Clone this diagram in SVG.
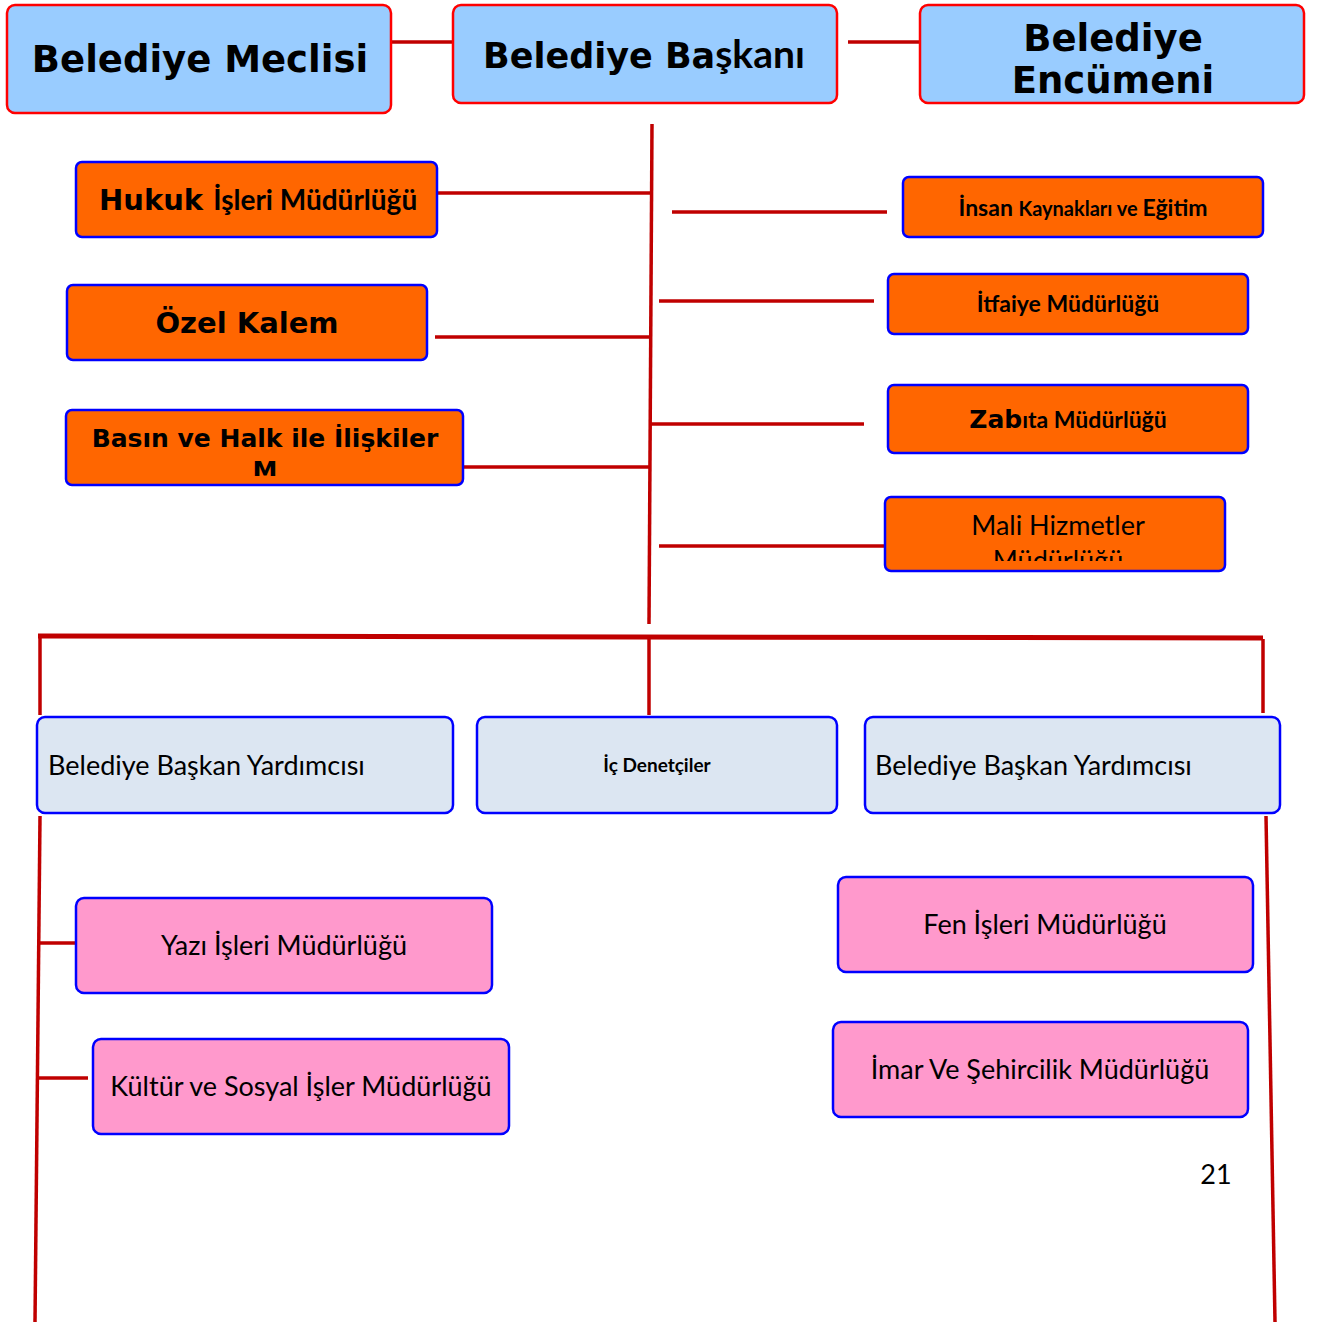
<svg xmlns="http://www.w3.org/2000/svg" width="1320" height="1322" viewBox="0 0 1320 1322">
<style>
.top{fill:#99ccff;stroke:#ff0000;stroke-width:2.5}
.org{fill:#ff6600;stroke:#0000ff;stroke-width:2.5}
.blu{fill:#dce6f2;stroke:#0000ff;stroke-width:2.5}
.pnk{fill:#ff99cc;stroke:#0000ff;stroke-width:2.5}
.ln{stroke:#c00000;stroke-width:3.5;fill:none}
.bus{stroke:#c00000;stroke-width:5;fill:none}
.dj{font-family:"DejaVu Sans",sans-serif;font-weight:bold;fill:#000}
.lb{font-family:Lato,"Liberation Sans",sans-serif;font-weight:bold;fill:#000}
.lr{font-family:Lato,"Liberation Sans",sans-serif;fill:#000;font-size:27px}
</style>
<defs>
<clipPath id="cBasin"><rect x="66" y="410" width="397" height="66"/></clipPath>
<clipPath id="cMali"><rect x="885" y="497" width="340" height="64"/></clipPath>
</defs>
<rect width="1320" height="1322" fill="#fff"/>
<g id="connectors">
<line class="ln" x1="391" y1="42" x2="463" y2="42"/>
<line class="ln" x1="848" y1="42" x2="920" y2="42"/>
<line class="ln" x1="652" y1="124" x2="649" y2="624"/>
<line class="ln" x1="437" y1="193" x2="651" y2="193"/>
<line class="ln" x1="435" y1="337" x2="650" y2="337"/>
<line class="ln" x1="463" y1="467" x2="651" y2="467"/>
<line class="ln" x1="672" y1="212" x2="887" y2="212"/>
<line class="ln" x1="659" y1="301" x2="874" y2="301"/>
<line class="ln" x1="650" y1="424" x2="864" y2="424"/>
<line class="ln" x1="659" y1="546" x2="885" y2="546"/>
<line class="bus" x1="38" y1="636" x2="1263" y2="638"/>
<line class="ln" x1="40" y1="636" x2="40" y2="715"/>
<line class="ln" x1="649" y1="637" x2="649" y2="715"/>
<line class="ln" x1="1263" y1="639" x2="1263" y2="713"/>
<line class="ln" x1="40" y1="816" x2="35" y2="1322"/>
<line class="ln" x1="39" y1="943" x2="85" y2="943"/>
<line class="ln" x1="38" y1="1078" x2="88" y2="1078"/>
<line class="ln" x1="1266" y1="816" x2="1275" y2="1322"/>
</g>
<g id="n-meclis">
<rect class="top" x="7" y="5" width="384" height="108" rx="8"/>
<text class="dj" x="200" y="72" font-size="37" text-anchor="middle">Belediye Meclisi</text>
</g>
<g id="n-baskan">
<rect class="top" x="453" y="5" width="384" height="98" rx="8"/>
<text x="483" y="68" font-size="35"><tspan class="dj">Belediye Ba</tspan><tspan class="lb" font-size="39">şkanı</tspan></text>
</g>
<g id="n-encumen">
<rect class="top" x="920" y="5" width="384" height="98" rx="8"/>
<text class="dj" x="1113" y="51" font-size="37" text-anchor="middle">Belediye</text>
<text class="dj" x="1113" y="93" font-size="37" text-anchor="middle">Encümeni</text>
</g>
<g id="n-hukuk">
<rect class="org" x="76" y="162" width="361" height="75" rx="6"/>
<text x="99" y="210"><tspan class="dj" font-size="29">Hukuk </tspan><tspan class="lb" font-size="28">İşleri Müdürlüğü</tspan></text>
</g>
<g id="n-ozel">
<rect class="org" x="67" y="285" width="360" height="75" rx="6"/>
<text class="dj" x="247" y="333" font-size="29" text-anchor="middle">Özel Kalem</text>
</g>
<g id="n-basin">
<rect class="org" x="66" y="410" width="397" height="75" rx="6"/>
<g clip-path="url(#cBasin)">
<text class="dj" x="265" y="447" font-size="25" text-anchor="middle">Basın ve Halk ile İlişkiler</text>
<text class="dj" x="265" y="479" font-size="25" text-anchor="middle">M</text>
</g>
</g>
<g id="n-insan">
<rect class="org" x="903" y="177" width="360" height="60" rx="6"/>
<text class="lb" x="1083" y="216" text-anchor="middle"><tspan font-size="23">İnsan </tspan><tspan font-size="20">Kaynakları ve </tspan><tspan font-size="23">Eğitim</tspan></text>
</g>
<g id="n-itfaiye">
<rect class="org" x="888" y="274" width="360" height="60" rx="6"/>
<text class="lb" x="1068" y="312" font-size="23" text-anchor="middle">İtfaiye Müdürlüğü</text>
</g>
<g id="n-zabita">
<rect class="org" x="888" y="385" width="360" height="68" rx="6"/>
<text x="1068" y="428" text-anchor="middle"><tspan class="dj" font-size="25">Zab</tspan><tspan class="lb" font-size="23">ıta Müdürlüğü</tspan></text>
</g>
<g id="n-mali">
<rect class="org" x="885" y="497" width="340" height="74" rx="6"/>
<g clip-path="url(#cMali)">
<text class="lr" x="1058" y="535" text-anchor="middle">Mali Hizmetler</text>
<text class="lr" x="1058" y="570" text-anchor="middle">Müdürlüğü</text>
</g>
</g>
<g id="n-byard1">
<rect class="blu" x="37" y="717" width="416" height="96" rx="8"/>
<text class="lr" x="48" y="775">Belediye Başkan Yardımcısı</text>
</g>
<g id="n-icdenetci">
<rect class="blu" x="477" y="717" width="360" height="96" rx="8"/>
<text class="lb" x="657" y="772" font-size="19" text-anchor="middle">İç Denetçiler</text>
</g>
<g id="n-byard2">
<rect class="blu" x="865" y="717" width="415" height="96" rx="8"/>
<text class="lr" x="875" y="775">Belediye Başkan Yardımcısı</text>
</g>
<g id="n-yazi">
<rect class="pnk" x="76" y="898" width="416" height="95" rx="8"/>
<text class="lr" x="284" y="955" text-anchor="middle">Yazı İşleri Müdürlüğü</text>
</g>
<g id="n-kultur">
<rect class="pnk" x="93" y="1039" width="416" height="95" rx="8"/>
<text class="lr" x="301" y="1096" text-anchor="middle">Kültür ve Sosyal İşler Müdürlüğü</text>
</g>
<g id="n-fen">
<rect class="pnk" x="838" y="877" width="415" height="95" rx="8"/>
<text class="lr" x="1045" y="934" text-anchor="middle">Fen İşleri Müdürlüğü</text>
</g>
<g id="n-imar">
<rect class="pnk" x="833" y="1022" width="415" height="95" rx="8"/>
<text class="lr" x="1040" y="1079" text-anchor="middle">İmar Ve Şehircilik Müdürlüğü</text>
</g>
<text class="lr" x="1216" y="1184" text-anchor="middle">21</text>
</svg>
